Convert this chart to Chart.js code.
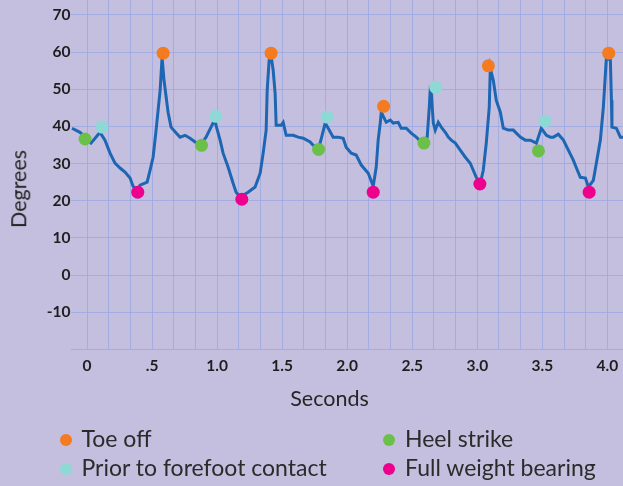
<!DOCTYPE html>
<html>
<head>
<meta charset="utf-8">
<script src="https://cdn.jsdelivr.net/npm/chart.js@4.4.1/dist/chart.umd.min.js"></script>
<style>
  body { margin: 0; background: #c4bfdf; }
  #wrap { position: relative; width: 623px; height: 486px; }
  #key { position: absolute; left: 0; top: 0; font-family: Lato, sans-serif; font-size: 23px; color: #2b2b2b; }
  .item { position: absolute; white-space: nowrap; height: 26px; line-height: 26px; }
  .dot { display: inline-block; width: 12px; height: 12px; border-radius: 50%; margin-right: 10px; vertical-align: 1px; }
  .axis-title { position: absolute; font-family: Lato, sans-serif; font-size: 21.5px; color: #262626; white-space: nowrap;
                transform: translate(-50%, -50%); line-height: 1; }
</style>
</head>
<body>
<div id="wrap">
  <canvas id="gait" width="623" height="486"></canvas>
  <div class="axis-title" style="left:329.5px; top:399px;">Seconds</div>
  <div class="axis-title" style="left:19px; top:189px; transform: translate(-50%, -50%) rotate(-90deg);">Degrees</div>
  <div id="key"></div>
</div>
<script>
// knee angle trace
var traceTime = [-0.115,-0.054,-0.015,0.031,0.062,0.1,0.138,0.177,0.215,0.254,
  0.292,0.331,0.354,0.385,0.408,0.462,0.485,0.508,0.531,0.562,
  0.577,0.592,0.623,0.646,0.685,0.715,0.754,0.792,0.831,0.869,
  0.915,0.969,0.985,1.023,1.046,1.085,1.123,1.146,1.177,1.238,
  1.292,1.331,1.354,1.377,1.385,1.4,1.415,1.431,1.446,1.454,
  1.492,1.508,1.531,1.585,1.623,1.662,1.715,1.738,1.777,1.792,
  1.831,1.854,1.892,1.931,1.969,1.992,2.031,2.069,2.108,2.162,
  2.2,2.223,2.238,2.254,2.262,2.3,2.331,2.354,2.392,2.415,
  2.454,2.492,2.531,2.569,2.615,2.631,2.638,2.646,2.662,2.677,
  2.7,2.723,2.754,2.777,2.8,2.831,2.869,2.908,2.946,2.969,
  2.992,3.023,3.046,3.069,3.092,3.1,3.123,3.146,3.177,3.2,
  3.238,3.277,3.3,3.331,3.369,3.408,3.454,3.492,3.531,3.562,
  3.585,3.623,3.662,3.7,3.738,3.762,3.792,3.831,3.854,3.892,
  3.915,3.946,3.969,3.985,3.992,4.023,4.031,4.035,4.069,4.1,
  4.123];
var traceAngle = [39.5,38.4,37.1,35.5,36.8,38.4,36.3,32.8,30.1,28.8,
  27.7,26.1,23.9,22.8,24.2,25.0,28.2,31.7,39.0,49.7,
  58.6,52.4,43.8,39.8,38.2,37.1,37.6,36.8,35.8,34.9,
  37.1,40.9,41.1,36.3,32.8,29.0,24.7,22.3,21.0,22.3,
  23.7,27.4,32.8,39.0,49.7,57.8,58.9,55.1,48.9,40.3,
  40.3,41.1,37.6,37.6,37.1,36.8,35.8,34.9,34.4,35.5,
  40.9,39.5,37.1,37.1,36.8,34.4,32.8,32.3,29.6,27.4,
  23.9,29.0,36.3,40.9,43.8,41.1,41.7,40.9,41.1,39.5,
  39.5,38.2,37.1,35.8,37.1,45.2,49.7,49.2,40.9,39.0,
  41.1,39.8,38.4,37.1,36.3,35.5,33.6,31.7,30.1,28.2,
  26.3,24.7,28.2,35.5,45.2,55.6,52.4,47.0,43.8,39.5,
  39.0,39.0,38.2,37.1,36.3,36.3,35.5,39.5,37.6,37.1,
  37.1,37.9,36.3,33.6,30.9,28.8,26.3,26.1,23.7,25.5,
  30.1,36.3,45.2,54.3,58.3,57.8,47.0,39.8,39.5,37.1,
  37.1];

// gait events
var toeOffTime = [0.585, 1.415, 2.28, 3.085, 4.01];
var toeOffAngle = [59.7, 59.7, 45.4, 56.3, 59.7];
var priorTime = [0.115, 0.99, 1.845, 2.68, 3.52];
var priorAngle = [39.8, 42.7, 42.5, 50.5, 41.4];
var heelTime = [-0.015, 0.88, 1.78, 2.59, 3.47];
var heelAngle = [36.6, 34.9, 33.8, 35.5, 33.4];
var fullTime = [0.39, 1.19, 2.2, 3.02, 3.86];
var fullAngle = [22.3, 20.4, 22.3, 24.5, 22.3];

var xTickLabels = ["0", ".5", "1.0", "1.5", "2.0", "2.5", "3.0", "3.5", "4.0"];
var yTickLabels = ["-10", "0", "10", "20", "30", "40", "50", "60", "70"];

var eventNames = ["Toe off", "Prior to forefoot contact", "Heel strike", "Full weight bearing"];
var eventColors = ["#f47b20", "#8ed8d6", "#6cc04a", "#ec008c"];

function pairs(xs, ys) {
  return xs.map(function (x, i) { return { x: x, y: ys[i] }; });
}

function eventSet(i, xs, ys) {
  return {
    type: "scatter",
    label: eventNames[i],
    data: pairs(xs, ys),
    backgroundColor: eventColors[i],
    borderWidth: 0,
    pointRadius: 6.5,
    pointHoverRadius: 6.5
  };
}

var grid = "rgba(150,165,225,0.7)";
var bold = { family: "Lato", size: 15.5, weight: "bold" };

new Chart(document.getElementById("gait"), {
  type: "line",
  data: {
    datasets: [
      eventSet(0, toeOffTime, toeOffAngle),
      eventSet(1, priorTime, priorAngle),
      eventSet(2, heelTime, heelAngle),
      eventSet(3, fullTime, fullAngle),
      {
        label: "Angle",
        data: pairs(traceTime, traceAngle),
        borderColor: "#1d66b3",
        borderWidth: 3,
        pointRadius: 0,
        tension: 0,
        clip: false
      }
    ]
  },
  options: {
    responsive: false,
    animation: false,
    layout: { padding: 0, autoPadding: false },
    plugins: { legend: { display: false }, tooltip: { enabled: false } },
    scales: {
      x: {
        type: "linear",
        min: -0.12,
        max: 4.12,
        afterFit: function (s) {
          s.height = 136.6;
          s.paddingLeft = 0;
          s.paddingRight = 0;
        },
        afterBuildTicks: function (s) {
          var t = [];
          for (var k = 0; k <= 24; k++) t.push({ value: k / 6 });
          s.ticks = t;
        },
        grid: { color: grid, drawTicks: false },
        border: { display: false },
        ticks: {
          autoSkip: false,
          maxRotation: 0,
          padding: 7,
          color: "#1e1e1e",
          font: bold,
          callback: function (v, i) { return i % 3 === 0 ? xTickLabels[i / 3] : ""; }
        }
      },
      y: {
        min: -20,
        max: 74,
        afterFit: function (s) {
          s.width = 71.4;
          s.paddingTop = 0;
          s.paddingBottom = 0;
        },
        grid: { color: grid, drawTicks: false },
        border: { display: false },
        ticks: {
          stepSize: 10,
          includeBounds: false,
          padding: 1,
          color: "#1e1e1e",
          font: bold,
          callback: function (v) { return yTickLabels.indexOf(String(v)) >= 0 ? String(v) : ""; }
        }
      }
    }
  }
});

// two-column key under the chart
var keySpots = [[65.5, 438], [65.5, 467], [389, 438], [389, 467]];
var key = document.getElementById("key");
eventNames.forEach(function (name, i) {
  var item = document.createElement("div");
  item.className = "item";
  item.style.left = (keySpots[i][0] - 6) + "px";
  item.style.top = (keySpots[i][1] - 13) + "px";
  item.innerHTML = '<span class="dot" style="background:' + eventColors[i] + '"></span>' + name;
  key.appendChild(item);
});
</script>
</body>
</html>
